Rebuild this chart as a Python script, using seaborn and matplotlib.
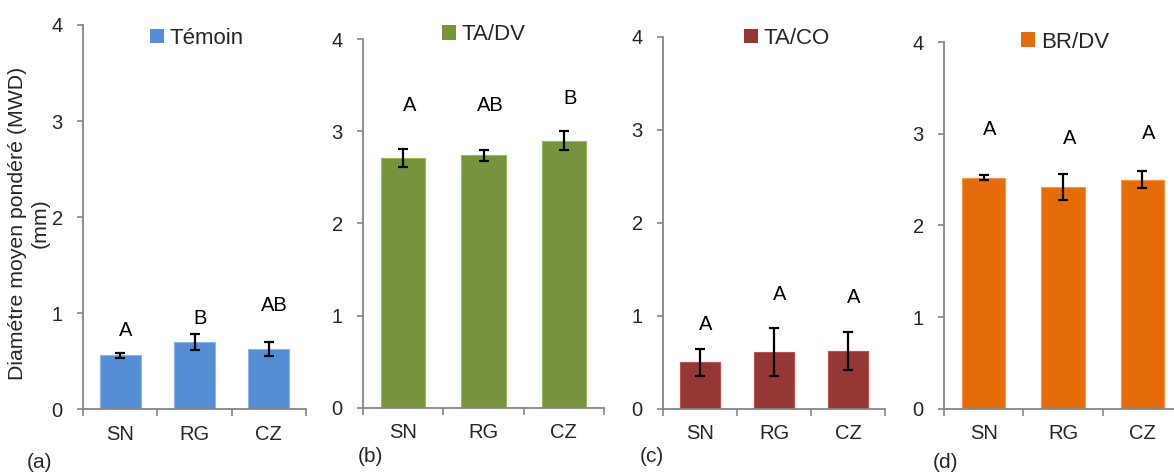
import matplotlib
matplotlib.use("Agg")
import matplotlib.pyplot as plt
import seaborn as sns
import pandas as pd
from matplotlib.patches import Patch

# ---------------- data ----------------
sites = ["SN", "RG", "CZ"]
treatments = ["Témoin", "TA/DV", "TA/CO", "BR/DV"]
mwd_temoin = [0.56, 0.70, 0.63]
mwd_tadv = [2.71, 2.74, 2.90]
mwd_taco = [0.50, 0.61, 0.62]
mwd_brdv = [2.52, 2.42, 2.50]
err_temoin = [0.025, 0.085, 0.075]
err_tadv = [0.095, 0.06, 0.10]
err_taco = [0.145, 0.255, 0.20]
err_brdv = [0.03, 0.14, 0.095]
letters_temoin = ["A", "B", "AB"]
letters_tadv = ["A", "AB", "B"]
letters_taco = ["A", "A", "A"]
letters_brdv = ["A", "A", "A"]
panel_tags = ["(a)", "(b)", "(c)", "(d)"]
y_ticks = [0, 1, 2, 3, 4]
y_label_line1 = "Diamétre moyen pondéré (MWD)"
y_label_line2 = "(mm)"

means = [mwd_temoin, mwd_tadv, mwd_taco, mwd_brdv]
errs = [err_temoin, err_tadv, err_taco, err_brdv]
letters = [letters_temoin, letters_tadv, letters_taco, letters_brdv]

# ---------------- style / layout ----------------
sns.set_style("white")
plt.rcParams["font.family"] = ["Liberation Sans", "DejaVu Sans"]
FS_TICK = 14.5
FS_LEG = 16
FS_LET = 14.5
FS_YLAB = 15.3
FS_TAG = 15
colors = ["#558ED5", "#77933C", "#953735", "#E46C0A"]
edge_colors = ["#8DB4E2", "#9BBB59", "#C0504D", "#F79646"]
spine_c = "#868686"

W, H = 1174, 475
# axes rectangles in pixels: left, top(y=4), right, bottom(y=0)
rects_px = [(83, 25, 306, 409.3), (363, 39.3, 604, 407.7),
            (663, 36.7, 885, 408.7), (944, 42, 1182, 408.7)]
# letter heights (data units)
letter_y = [[0.82, 0.95, 1.08], [3.28, 3.28, 3.36],
            [0.90, 1.23, 1.20], [3.05, 2.95, 3.00]]
# legend anchor (pixels, upper-left)
legend_px = [(150, 28), (442, 24.5), (744, 28), (1021, 31.5)]
tag_px = [(39, 462), (370, 457), (652, 457), (945, 463)]

fig = plt.figure(figsize=(W / 100, H / 100), dpi=100)

for i in range(4):
    l, t, r, b = rects_px[i]
    ax = fig.add_axes([l / W, 1 - b / H, (r - l) / W, (b - t) / H])
    df = pd.DataFrame({"site": sites, "mwd": means[i]})
    sns.barplot(data=df, x="site", y="mwd", ax=ax, color=colors[i],
                width=0.55, errorbar=None, saturation=1,
                edgecolor=edge_colors[i], linewidth=0.8)
    ax.errorbar(range(len(sites)), means[i], yerr=errs[i], fmt="none",
                ecolor="black", elinewidth=1.6, capsize=3.5, capthick=1.6,
                zorder=5)
    for j in range(len(sites)):
        ax.text(j + 0.08, letter_y[i][j], letters[i][j], ha="center",
                va="center", fontsize=FS_LET, color="black")
    ax.set_xlim(-0.5, 2.5)
    ax.set_ylim(0, 4)
    ax.set_yticks(y_ticks)
    ax.set_xlabel("")
    ax.set_ylabel("")
    ax.set_xticks([-0.5, 0.5, 1.5, 2.5], minor=True)
    ax.tick_params(axis="x", which="major", length=0, pad=11,
                   labelsize=FS_TICK)
    ax.tick_params(axis="x", which="minor", length=5, width=1.2,
                   color=spine_c, direction="out", bottom=True)
    ax.tick_params(axis="y", length=4.5, width=1.2, color=spine_c,
                   direction="out", left=True, pad=10, labelsize=FS_TICK)
    for s in ["top", "right"]:
        ax.spines[s].set_visible(False)
    for s in ["left", "bottom"]:
        ax.spines[s].set_color(spine_c)
        ax.spines[s].set_linewidth(1.3)
    ax.set_facecolor("white")
    handle = Patch(facecolor=colors[i], edgecolor="none")
    lx, ly = legend_px[i]
    ax.legend([handle], [treatments[i]], loc="upper left",
              bbox_to_anchor=(lx / W, 1 - ly / H),
              bbox_transform=fig.transFigure, frameon=False,
              fontsize=FS_LEG, handlelength=0.62, handleheight=0.62,
              handletextpad=0.27, borderpad=0, borderaxespad=0)
    tx, ty = tag_px[i]
    fig.text(tx / W, 1 - ty / H, panel_tags[i], ha="center", va="center",
             fontsize=FS_TAG)

fig.text(17.5 / W, 1 - 223 / H, y_label_line1, rotation=90, ha="center",
         va="center", fontsize=FS_YLAB)
fig.text(40 / W, 1 - 223 / H, y_label_line2, rotation=90, ha="center",
         va="center", fontsize=FS_YLAB)

fig.savefig("out.png", dpi=100, facecolor="white")
